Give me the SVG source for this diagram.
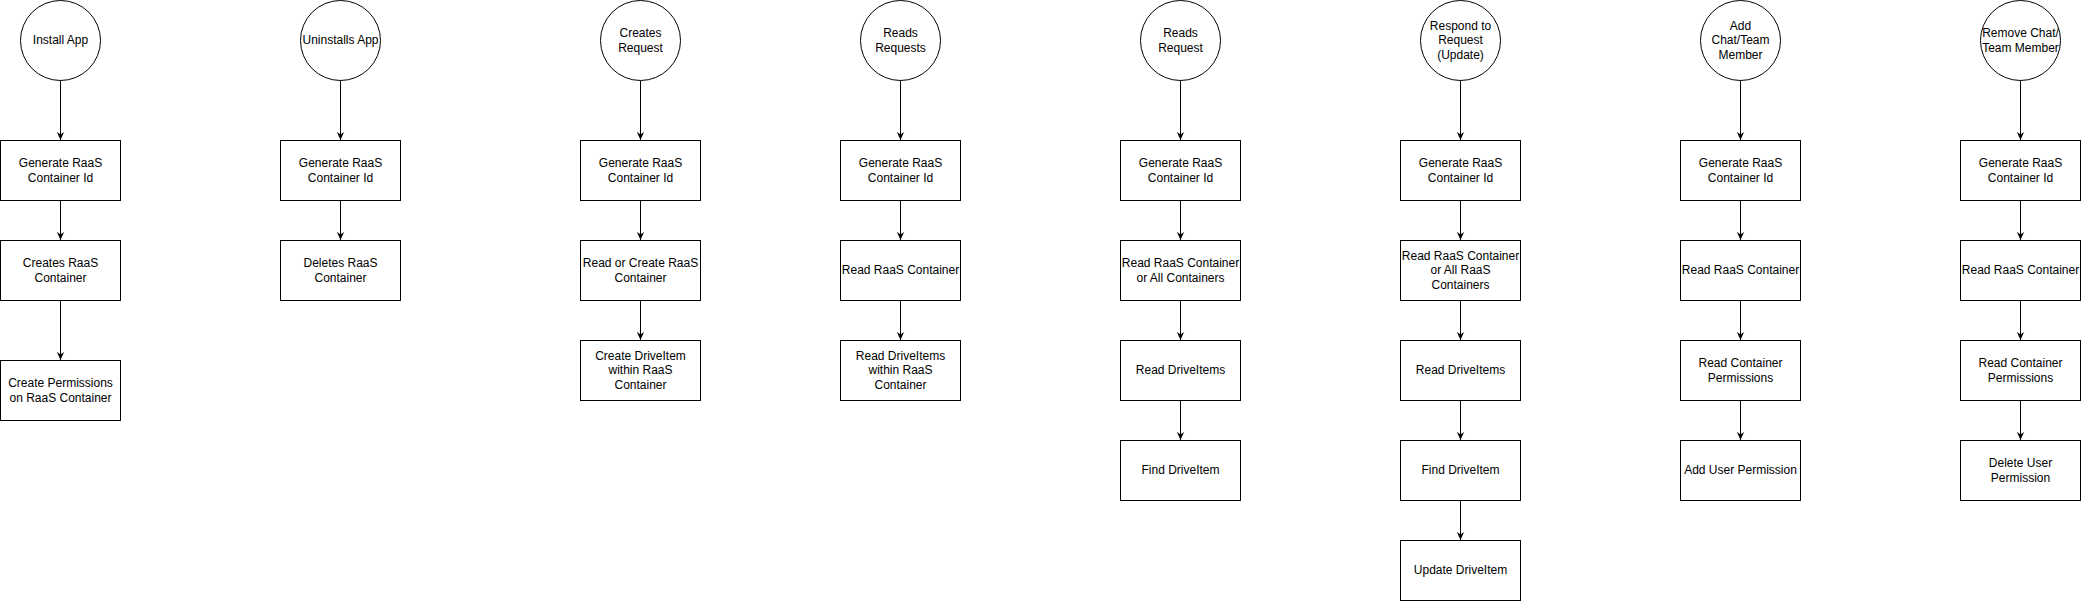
<svg xmlns="http://www.w3.org/2000/svg" width="2081" height="601" viewBox="0 0 2081 601">
<style>
.n{fill:#fff;stroke:#000;stroke-width:1}
.t{font-family:"Liberation Sans",Arial,sans-serif;font-size:12px;fill:#000;text-anchor:middle}
.c{stroke:#000;stroke-width:1;fill:none;marker-end:url(#ah)}
</style>
<defs>
<marker id="ah" viewBox="0 0 10 10" refX="10" refY="5" markerWidth="8" markerHeight="8" markerUnits="userSpaceOnUse" orient="auto">
<path d="M0,0.5 L10,5 L0,9.5 L3,5 z" fill="#000"/>
</marker>
</defs>
<rect width="2081" height="601" fill="#fff"/>
<g id="connectors">
<path class="c" d="M60.5,80.5 V140"/>
<path class="c" d="M60.5,200.5 V240"/>
<path class="c" d="M60.5,300.5 V360"/>
<path class="c" d="M340.5,80.5 V140"/>
<path class="c" d="M340.5,200.5 V240"/>
<path class="c" d="M640.5,80.5 V140"/>
<path class="c" d="M640.5,200.5 V240"/>
<path class="c" d="M640.5,300.5 V340"/>
<path class="c" d="M900.5,80.5 V140"/>
<path class="c" d="M900.5,200.5 V240"/>
<path class="c" d="M900.5,300.5 V340"/>
<path class="c" d="M1180.5,80.5 V140"/>
<path class="c" d="M1180.5,200.5 V240"/>
<path class="c" d="M1180.5,300.5 V340"/>
<path class="c" d="M1180.5,400.5 V440"/>
<path class="c" d="M1460.5,80.5 V140"/>
<path class="c" d="M1460.5,200.5 V240"/>
<path class="c" d="M1460.5,300.5 V340"/>
<path class="c" d="M1460.5,400.5 V440"/>
<path class="c" d="M1460.5,500.5 V540"/>
<path class="c" d="M1740.5,80.5 V140"/>
<path class="c" d="M1740.5,200.5 V240"/>
<path class="c" d="M1740.5,300.5 V340"/>
<path class="c" d="M1740.5,400.5 V440"/>
<path class="c" d="M2020.5,80.5 V140"/>
<path class="c" d="M2020.5,200.5 V240"/>
<path class="c" d="M2020.5,300.5 V340"/>
<path class="c" d="M2020.5,400.5 V440"/>
</g>

<!-- Column 1 -->
<g id="install-app"><ellipse class="n" cx="60.5" cy="40.5" rx="40" ry="40"/><text class="t" x="60.5" y="44.3">Install App</text></g>
<g id="c1-gen"><rect class="n" x="0.5" y="140.5" width="120" height="60"/><text class="t" x="60.5" y="167">Generate RaaS</text><text class="t" x="60.5" y="181.5">Container Id</text></g>
<g id="c1-create"><rect class="n" x="0.5" y="240.5" width="120" height="60"/><text class="t" x="60.5" y="267">Creates RaaS</text><text class="t" x="60.5" y="281.5">Container</text></g>
<g id="c1-perm"><rect class="n" x="0.5" y="360.5" width="120" height="60"/><text class="t" x="60.5" y="387">Create Permissions</text><text class="t" x="60.5" y="401.5">on RaaS Container</text></g>

<!-- Column 2 -->
<g id="uninstall-app"><ellipse class="n" cx="340.5" cy="40.5" rx="40" ry="40"/><text class="t" x="340.5" y="44.3">Uninstalls App</text></g>
<g id="c2-gen"><rect class="n" x="280.5" y="140.5" width="120" height="60"/><text class="t" x="340.5" y="167">Generate RaaS</text><text class="t" x="340.5" y="181.5">Container Id</text></g>
<g id="c2-delete"><rect class="n" x="280.5" y="240.5" width="120" height="60"/><text class="t" x="340.5" y="267">Deletes RaaS</text><text class="t" x="340.5" y="281.5">Container</text></g>

<!-- Column 3 -->
<g id="creates-request"><ellipse class="n" cx="640.5" cy="40.5" rx="40" ry="40"/><text class="t" x="640.5" y="37">Creates</text><text class="t" x="640.5" y="51.5">Request</text></g>
<g id="c3-gen"><rect class="n" x="580.5" y="140.5" width="120" height="60"/><text class="t" x="640.5" y="167">Generate RaaS</text><text class="t" x="640.5" y="181.5">Container Id</text></g>
<g id="c3-readcreate"><rect class="n" x="580.5" y="240.5" width="120" height="60"/><text class="t" x="640.5" y="267">Read or Create RaaS</text><text class="t" x="640.5" y="281.5">Container</text></g>
<g id="c3-createitem"><rect class="n" x="580.5" y="340.5" width="120" height="60"/><text class="t" x="640.5" y="359.8">Create DriveItem</text><text class="t" x="640.5" y="374.3">within RaaS</text><text class="t" x="640.5" y="388.8">Container</text></g>

<!-- Column 4 -->
<g id="reads-requests"><ellipse class="n" cx="900.5" cy="40.5" rx="40" ry="40"/><text class="t" x="900.5" y="37">Reads</text><text class="t" x="900.5" y="51.5">Requests</text></g>
<g id="c4-gen"><rect class="n" x="840.5" y="140.5" width="120" height="60"/><text class="t" x="900.5" y="167">Generate RaaS</text><text class="t" x="900.5" y="181.5">Container Id</text></g>
<g id="c4-read"><rect class="n" x="840.5" y="240.5" width="120" height="60"/><text class="t" x="900.5" y="274.3">Read RaaS Container</text></g>
<g id="c4-readitems"><rect class="n" x="840.5" y="340.5" width="120" height="60"/><text class="t" x="900.5" y="359.8">Read DriveItems</text><text class="t" x="900.5" y="374.3">within RaaS</text><text class="t" x="900.5" y="388.8">Container</text></g>

<!-- Column 5 -->
<g id="reads-request"><ellipse class="n" cx="1180.5" cy="40.5" rx="40" ry="40"/><text class="t" x="1180.5" y="37">Reads</text><text class="t" x="1180.5" y="51.5">Request</text></g>
<g id="c5-gen"><rect class="n" x="1120.5" y="140.5" width="120" height="60"/><text class="t" x="1180.5" y="167">Generate RaaS</text><text class="t" x="1180.5" y="181.5">Container Id</text></g>
<g id="c5-read"><rect class="n" x="1120.5" y="240.5" width="120" height="60"/><text class="t" x="1180.5" y="267">Read RaaS Container</text><text class="t" x="1180.5" y="281.5">or All Containers</text></g>
<g id="c5-readitems"><rect class="n" x="1120.5" y="340.5" width="120" height="60"/><text class="t" x="1180.5" y="374.3">Read DriveItems</text></g>
<g id="c5-find"><rect class="n" x="1120.5" y="440.5" width="120" height="60"/><text class="t" x="1180.5" y="474.3">Find DriveItem</text></g>

<!-- Column 6 -->
<g id="respond-request"><ellipse class="n" cx="1460.5" cy="40.5" rx="40" ry="40"/><text class="t" x="1460.5" y="30">Respond to</text><text class="t" x="1460.5" y="44.3">Request</text><text class="t" x="1460.5" y="58.8">(Update)</text></g>
<g id="c6-gen"><rect class="n" x="1400.5" y="140.5" width="120" height="60"/><text class="t" x="1460.5" y="167">Generate RaaS</text><text class="t" x="1460.5" y="181.5">Container Id</text></g>
<g id="c6-read"><rect class="n" x="1400.5" y="240.5" width="120" height="60"/><text class="t" x="1460.5" y="259.8">Read RaaS Container</text><text class="t" x="1460.5" y="274.3">or All RaaS</text><text class="t" x="1460.5" y="288.8">Containers</text></g>
<g id="c6-readitems"><rect class="n" x="1400.5" y="340.5" width="120" height="60"/><text class="t" x="1460.5" y="374.3">Read DriveItems</text></g>
<g id="c6-find"><rect class="n" x="1400.5" y="440.5" width="120" height="60"/><text class="t" x="1460.5" y="474.3">Find DriveItem</text></g>
<g id="c6-update"><rect class="n" x="1400.5" y="540.5" width="120" height="60"/><text class="t" x="1460.5" y="574.3">Update DriveItem</text></g>

<!-- Column 7 -->
<g id="add-member"><ellipse class="n" cx="1740.5" cy="40.5" rx="40" ry="40"/><text class="t" x="1740.5" y="30">Add</text><text class="t" x="1740.5" y="44.3">Chat/Team</text><text class="t" x="1740.5" y="58.8">Member</text></g>
<g id="c7-gen"><rect class="n" x="1680.5" y="140.5" width="120" height="60"/><text class="t" x="1740.5" y="167">Generate RaaS</text><text class="t" x="1740.5" y="181.5">Container Id</text></g>
<g id="c7-read"><rect class="n" x="1680.5" y="240.5" width="120" height="60"/><text class="t" x="1740.5" y="274.3">Read RaaS Container</text></g>
<g id="c7-perms"><rect class="n" x="1680.5" y="340.5" width="120" height="60"/><text class="t" x="1740.5" y="367">Read Container</text><text class="t" x="1740.5" y="381.5">Permissions</text></g>
<g id="c7-add"><rect class="n" x="1680.5" y="440.5" width="120" height="60"/><text class="t" x="1740.5" y="474.3">Add User Permission</text></g>

<!-- Column 8 -->
<g id="remove-member"><ellipse class="n" cx="2020.5" cy="40.5" rx="40" ry="40"/><text class="t" x="2020.5" y="37">Remove Chat/</text><text class="t" x="2020.5" y="51.5">Team Member</text></g>
<g id="c8-gen"><rect class="n" x="1960.5" y="140.5" width="120" height="60"/><text class="t" x="2020.5" y="167">Generate RaaS</text><text class="t" x="2020.5" y="181.5">Container Id</text></g>
<g id="c8-read"><rect class="n" x="1960.5" y="240.5" width="120" height="60"/><text class="t" x="2020.5" y="274.3">Read RaaS Container</text></g>
<g id="c8-perms"><rect class="n" x="1960.5" y="340.5" width="120" height="60"/><text class="t" x="2020.5" y="367">Read Container</text><text class="t" x="2020.5" y="381.5">Permissions</text></g>
<g id="c8-delete"><rect class="n" x="1960.5" y="440.5" width="120" height="60"/><text class="t" x="2020.5" y="467">Delete User</text><text class="t" x="2020.5" y="481.5">Permission</text></g>
</svg>
